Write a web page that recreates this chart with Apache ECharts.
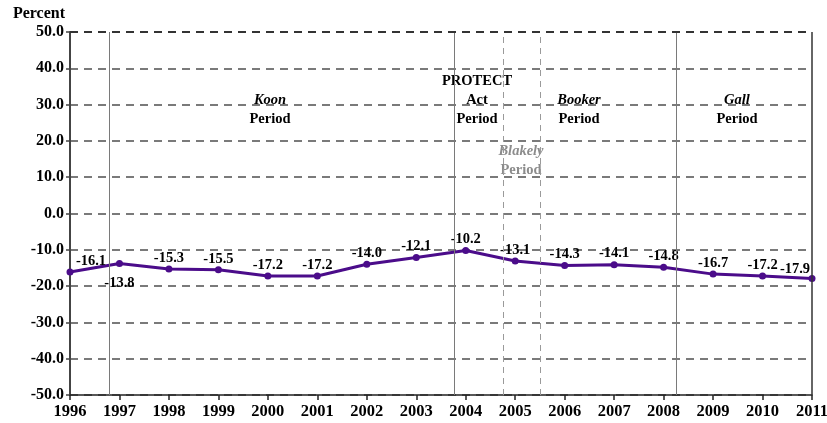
<!DOCTYPE html>
<html>
<head>
<meta charset="utf-8">
<script src="https://cdn.jsdelivr.net/npm/echarts@6/dist/echarts.min.js"></script>
<style>
  html, body { margin: 0; padding: 0; background: #fff; }
  #chart { width: 827px; height: 423px; }
</style>
</head>
<body>
<div id="chart"></div>
<script>
// ======================
// DATA
// ======================

const years = [1996, 1997, 1998, 1999, 2000, 2001, 2002, 2003, 2004, 2005, 2006, 2007, 2008, 2009, 2010, 2011];
const values = [-16.1, -13.8, -15.3, -15.5, -17.2, -17.2, -14.0, -12.1, -10.2, -13.1, -14.3, -14.1, -14.8, -16.7, -17.2, -17.9];

// period boundaries (fractional year positions on the axis)
const solidBoundaries = [1996.79, 2003.77, 2008.25];
const dashedBoundaries = [2004.76, 2005.50];

// ======================
// STYLE
// ======================

const FONT = '"Liberation Serif", "Times New Roman", serif';
const LINE_COLOR = '#4b0c8a';

// label placement tweaks per point index
const labelTweaks = {
    0: { position: 'top', offset: [21, 0] },
    1: { position: 'bottom', distance: 9 },
    15: { position: 'top', offset: [-17, 2] }
};

function buildPoints() {
    return years.map((y, i) => {
        const point = { value: [y, values[i]] };
        if (labelTweaks[i]) point.label = labelTweaks[i];
        return point;
    });
}

function periodText(x, y, lines) {
    return lines.map((ln, i) => ({
        type: 'text',
        x: x,
        y: y + i * 19,
        style: {
            text: ln.text,
            font: (ln.italic ? 'italic ' : '') + 'bold 14.5px ' + FONT,
            fill: ln.color || '#000',
            textAlign: 'center',
            textVerticalAlign: 'middle'
        }
    }));
}

const chart = echarts.init(document.getElementById('chart'));

const option = {
    animation: false,
    backgroundColor: '#fff',
    grid: { left: 70, right: 15, top: 32, bottom: 28, containLabel: false, outerBoundsMode: 'none' },
    xAxis: {
        type: 'value',
        min: 1996,
        max: 2011,
        interval: 1,
        axisLine: { show: true, onZero: false, lineStyle: { color: '#222', width: 1.5 } },
        axisTick: { show: true, length: 5, lineStyle: { color: '#222', width: 1.5 } },
        axisLabel: {
            formatter: v => String(v),
            color: '#000',
            fontFamily: FONT,
            fontWeight: 'bold',
            fontSize: 16.5,
            margin: 8
        },
        splitLine: { show: false }
    },
    yAxis: {
        type: 'value',
        min: -50,
        max: 50,
        interval: 10,
        name: 'Percent',
        nameLocation: 'end',
        nameGap: 10,
        nameTextStyle: {
            color: '#000',
            fontFamily: FONT,
            fontWeight: 'bold',
            fontSize: 16,
            align: 'right',
            padding: [0, 5, 0, 0]
        },
        axisLine: { show: true, lineStyle: { color: '#444', width: 2 } },
        axisTick: { show: true, length: 4, lineStyle: { color: '#444', width: 1.5 } },
        axisLabel: {
            formatter: v => v.toFixed(1),
            color: '#000',
            fontFamily: FONT,
            fontWeight: 'bold',
            fontSize: 16,
            margin: 6
        },
        splitLine: { show: true, lineStyle: { color: '#7a7a7a', width: 2, type: [8, 6] } }
    },
    series: [
        {
            type: 'line',
            data: buildPoints(),
            symbol: 'circle',
            symbolSize: 7,
            lineStyle: { color: LINE_COLOR, width: 3 },
            itemStyle: { color: LINE_COLOR },
            label: {
                show: true,
                position: 'top',
                distance: 0,
                color: '#000',
                fontFamily: FONT,
                fontWeight: 'bold',
                fontSize: 14.5,
                formatter: p => p.value[1].toFixed(1)
            },
            markLine: {
                silent: true,
                symbol: 'none',
                label: { show: false },
                data: [
                    ...solidBoundaries.map(x => ({ xAxis: x, lineStyle: { color: '#7a7a7a', width: 1, type: 'solid' } })),
                    ...dashedBoundaries.map(x => ({ xAxis: x, lineStyle: { color: '#9a9a9a', width: 1, type: [6, 5] } })),
                    { xAxis: 2011, lineStyle: { color: '#333', width: 1.5, type: 'solid' } },
                    { yAxis: 50, lineStyle: { color: '#333', width: 2, type: [8, 6] } }
                ]
            }
        }
    ],
    graphic: [
        ...periodText(270, 100, [{ text: 'Koon', italic: true }, { text: 'Period' }]),
        ...periodText(477, 81, [{ text: 'PROTECT' }, { text: 'Act' }, { text: 'Period' }]),
        ...periodText(521, 151, [{ text: 'Blakely', italic: true, color: '#8c8c8c' }, { text: 'Period', color: '#8c8c8c' }]),
        ...periodText(579, 100, [{ text: 'Booker', italic: true }, { text: 'Period' }]),
        ...periodText(737, 100, [{ text: 'Gall', italic: true }, { text: 'Period' }])
    ]
};

chart.setOption(option);
</script>
</body>
</html>
